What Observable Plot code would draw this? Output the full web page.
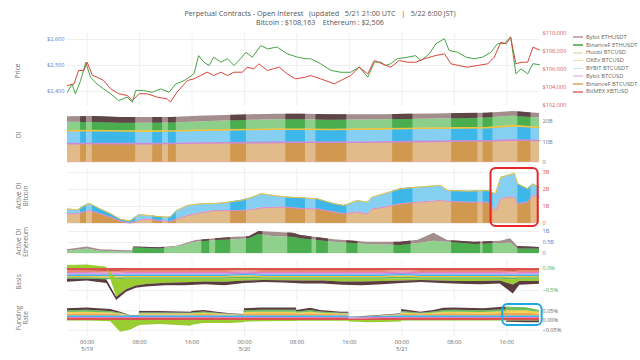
<!DOCTYPE html>
<html><head><meta charset="utf-8">
<script src="https://cdn.jsdelivr.net/npm/d3@7"></script>
<script src="https://cdn.jsdelivr.net/npm/@observablehq/plot@0.6"></script>
<style>
body{margin:0;background:#fff}
#root{position:relative;width:640px;height:360px;overflow:hidden;font-family:"Open Sans",sans-serif;color:#555;background:#fff}
#root svg{position:absolute;left:0}
.ttl{position:absolute;left:0;width:640px;text-align:center;white-space:pre;font-size:7.2px;line-height:10px;color:#555}
.ylab{position:absolute;font-size:6.5px;color:#777;transform:translate(-50%,-50%) rotate(-90deg);text-align:center;line-height:1.15;white-space:pre}
.leg{position:absolute;font-size:5.8px;color:#666;white-space:nowrap;line-height:8px}
.leg span{display:inline-block;width:10px;height:1.5px;vertical-align:middle;margin-right:3px}
</style></head><body><div id="root"></div><script>
// ---------------- DATA ----------------
const xTickHours = [3, 11, 19, 27, 35, 43, 51, 59, 67];
const xTickLabels = ["00:00\n5/19","08:00","16:00","00:00\n5/20","08:00","16:00","00:00\n5/21","08:00","16:00"];

const ethHours = [0,0.7,1.2,2.0,2.8,3.5,4.5,5.5,6.6,7.8,9.1,9.9,10.4,11.6,12.9,14.2,15.5,16.5,17.8,19.3,20.0,20.8,21.6,22.3,23.4,24.4,25.4,26.4,27.2,28.2,29.5,30.5,32.0,33.5,35.1,36.3,37.1,38.6,40.2,41.7,43.2,44.5,45.8,46.8,47.8,48.5,49.3,50.3,51.9,53.1,53.9,55.2,56.2,57.5,58.2,59.5,60.8,62.0,63.3,64.6,65.6,66.6,67.6,68.4,69.2,70.2,71.0,72.0];
const ethPrice = [2397,2429,2391,2442,2512,2455,2429,2410,2391,2365,2378,2359,2404,2404,2397,2410,2397,2429,2442,2468,2538,2513,2500,2532,2513,2526,2500,2526,2551,2532,2577,2564,2571,2545,2532,2526,2526,2507,2481,2474,2474,2494,2455,2513,2513,2500,2507,2526,2532,2538,2519,2545,2584,2603,2558,2551,2532,2526,2532,2551,2584,2584,2610,2468,2487,2468,2507,2503];

const btcHours = [0,1.0,1.7,2.5,3.0,3.8,4.5,5.5,6.6,7.8,9.1,9.9,10.9,12.2,13.7,15.2,15.7,16.7,18.3,19.3,20.3,21.3,22.3,23.4,24.4,25.4,26.7,27.4,28.4,29.2,30.5,32.3,33.5,34.8,36.3,37.1,38.6,40.7,41.7,43.2,44.5,45.8,46.8,48.0,49.3,50.6,51.9,53.1,54.4,56.2,57.5,58.5,59.7,61.0,62.5,64.1,65.1,66.1,66.9,67.6,68.4,69.2,70.2,71.0,72.0];
const btcPrice = [104222,104410,105890,105890,106810,105330,105150,104780,103850,103300,103110,102560,103300,103300,102920,102740,102370,103480,104780,104960,105330,105700,105330,105700,105330,105700,105700,106260,106070,106630,105890,106260,105520,104960,105150,105330,104960,104410,104780,105330,106260,105520,107000,106630,106260,107000,106810,106810,107190,107560,107740,106630,106440,106260,106440,106630,107370,109030,108850,109590,106630,106810,106810,108480,108163];

const oiHours = [0,4,8,12,16,20,24,28,32,36,40,44,48,52,56,60,64,68,72];
const oiBitmex = [0.3,0.3,0.3,0.3,0.3,0.3,0.3,0.3,0.3,0.3,0.3,0.3,0.3,0.3,0.3,0.3,0.3,0.3,0.3];
const oiBinanceBtc = [8.9,9.0,8.9,8.9,9.0,9.2,9.3,9.4,9.5,9.6,9.6,9.6,9.7,9.9,10.0,10.2,10.2,10.7,10.4];
const oiBybitBtcusdt = [6.3,6.3,6.2,6.1,6.1,6.2,6.3,6.4,6.4,6.3,6.2,6.3,6.4,6.4,6.4,6.4,6.5,7.0,6.4];
const oiBinanceEth = [4.1,3.9,3.8,3.8,3.9,4.1,4.4,4.5,4.6,4.7,4.5,4.5,4.5,4.4,4.5,4.5,4.7,4.6,4.6];
const oiBybitEth = [2.7,2.9,2.8,2.8,2.7,2.8,2.6,2.7,2.8,2.7,2.7,2.6,2.4,2.5,2.5,2.5,2.3,2.3,2.2];

const activeBtcHours = [0,1.5,3.3,5,6.6,8.1,9.6,10.9,12.4,13.7,15.7,16.7,18.3,20.3,22.3,24.4,26.4,27.9,29.5,31.5,33.5,35.6,38.1,40.7,42.2,44.2,45.8,46.5,48.3,50.8,53.4,56.9,58,61,64.1,65.3,66.1,67.1,68.2,68.7,70.2,71,72];
const activeBtcBinance = [0.57,0.57,0.76,0.57,0.37,0.12,0.02,0.18,0.27,0.18,0.12,0.27,0.47,0.63,0.76,0.76,0.76,0.80,0.92,0.96,0.96,0.88,0.86,0.67,0.57,0.67,0.57,0.86,0.96,1.16,1.25,1.35,1.30,1.25,1.25,0.76,1.45,1.55,1.55,1.16,1.25,1.65,1.55];
const activeBtcBybit = [0.29,0.23,0.43,0.29,0.20,0.12,0.12,0.35,0.20,0.23,0.25,0.49,0.59,0.53,0.40,0.49,0.59,0.71,0.83,0.69,0.59,0.64,0.59,0.49,0.49,0.68,0.68,0.69,0.79,0.88,0.89,0.89,0.64,0.65,0.69,0.99,1.27,1.27,1.41,1.17,0.79,0.68,0.59];

const activeEthHours = [0,3,5,9,9.9,10.1,14,16.7,19.6,22.6,25.6,27.7,29.2,31.3,34.4,35.6,40.7,45.8,50.8,53.5,55.9,58,62.1,66.1,67.6,68.7,72];
const activeEthBinance = [0.10,0.21,0.10,0.06,0.06,0.26,0.21,0.29,0.51,0.59,0.62,0.67,0.86,0.77,0.74,0.67,0.51,0.41,0.36,0.45,0.56,0.51,0.41,0.45,0.47,0.21,0.21];
const activeEthBybit = [0.07,0.08,0.07,0.07,0.07,0.03,0.05,0.04,0.08,0.08,0.12,0.09,0.14,0.20,0.18,0.15,0.11,0.10,0.15,0.15,0.36,0.08,0.10,0.11,0.20,0.11,0.06];

// dark shading intervals (hours from start)
const darkBands = [[2.0,2.9],[3.8,10.4],[13.0,14.5],[15.4,16.6],[24.9,27.3],[33.3,36.3],[37.9,42.6],[49.6,52.7],[58.6,62.6],[63.4,64.9],[68.7,70.7]];
const ethDarkBands = [[10,14.8],[20.5,21.7],[22.6,24.9],[27.3,29.8],[33.6,37.3],[38,39.8],[42.6,44.3],[49.8,52.4],[58.6,63],[63.4,64.9],[68.7,72]];

const basisHours = [0,3,6,7.5,9,10.5,12,15,18,21,24,27,30,33,36,39,42,45,48,51,54,57,60,63,66,68,69,72];
const basisL1 = [-0.06,-0.06,-0.07,-0.07,-0.06,-0.06,-0.06,-0.06,-0.06,-0.06,-0.06,-0.05,-0.06,-0.06,-0.06,-0.06,-0.06,-0.06,-0.06,-0.05,-0.06,-0.06,-0.06,-0.06,-0.06,-0.07,-0.06,-0.06];
const basisL2 = [-0.03,-0.03,-0.03,-0.03,-0.03,-0.03,-0.03,-0.03,-0.03,-0.03,-0.03,-0.03,-0.03,-0.03,-0.03,-0.03,-0.03,-0.03,-0.03,-0.03,-0.03,-0.03,-0.03,-0.03,-0.03,-0.03,-0.03,-0.03];
const basisL3 = [-0.03,-0.03,-0.03,-0.03,-0.03,-0.03,-0.03,-0.03,-0.03,-0.03,-0.03,-0.03,-0.03,-0.03,-0.03,-0.03,-0.03,-0.03,-0.03,-0.03,-0.03,-0.03,-0.03,-0.03,-0.03,-0.03,-0.03,-0.03];
const basisL4 = [-0.025,-0.025,-0.025,-0.025,-0.025,-0.025,-0.025,-0.025,-0.025,-0.025,-0.025,-0.025,-0.025,-0.025,-0.025,-0.025,-0.025,-0.025,-0.025,-0.025,-0.025,-0.025,-0.025,-0.025,-0.025,-0.025,-0.025,-0.025];
const basisL5 = [-0.035,-0.035,-0.035,-0.035,-0.035,-0.035,-0.035,-0.035,-0.035,-0.035,-0.035,-0.035,-0.035,-0.035,-0.035,-0.035,-0.035,-0.035,-0.035,-0.035,-0.035,-0.035,-0.035,-0.035,-0.035,-0.035,-0.035,-0.035];
const basisL6 = [-0.03,-0.03,-0.03,-0.03,-0.03,-0.03,-0.03,-0.03,-0.03,-0.03,-0.03,-0.03,-0.03,-0.03,-0.03,-0.03,-0.03,-0.03,-0.03,-0.03,-0.03,-0.03,-0.03,-0.03,-0.03,-0.03,-0.03,-0.03];
const basisL7 = [-0.035,-0.035,-0.035,-0.035,-0.035,-0.035,-0.035,-0.035,-0.035,-0.035,-0.035,-0.035,-0.035,-0.035,-0.035,-0.035,-0.035,-0.035,-0.035,-0.035,-0.035,-0.035,-0.035,-0.035,-0.035,-0.035,-0.035,-0.035];
const basisL8 = [0.07,0.08,0.03,-0.40,-0.24,-0.15,-0.12,-0.09,-0.08,-0.06,-0.07,-0.05,-0.03,-0.035,-0.04,-0.04,-0.06,-0.06,-0.05,-0.05,-0.03,-0.04,-0.05,-0.05,-0.04,-0.12,-0.05,-0.05];
const basisL9 = [-0.065,-0.04,-0.085,-0.075,-0.055,-0.055,-0.055,-0.055,-0.065,-0.065,-0.075,-0.055,-0.045,-0.05,-0.065,-0.065,-0.075,-0.085,-0.075,-0.055,-0.045,-0.055,-0.065,-0.075,-0.065,-0.205,-0.085,-0.065];

const fundHours = [0,3,6.6,8.1,9.6,10.9,11,14,18.9,19,20.8,22.8,24.9,26.9,27,29.5,34.9,35,37.1,38.6,41.7,42.9,43,45.8,48,50.9,51,53.9,55.9,57.4,59,63.5,66.9,67,70,72];
const fundL1 = [.010,.010,.010,.010,.010,.010,.010,.010,.010,.010,.010,.010,.010,.010,.010,.010,.010,.010,.010,.010,.010,.010,.008,.009,.010,.010,.010,.010,.010,.010,.010,.010,.010,.010,.010,.010];
const fundL2 = [.006,.006,.006,.006,.006,.006,.006,.006,.006,.006,.006,.006,.006,.006,.006,.006,.006,.006,.006,.006,.006,.006,.005,.006,.006,.006,.006,.006,.006,.006,.006,.006,.006,.006,.006,.006];
const fundL3 = [.009,.009,.009,.009,.009,.009,.009,.009,.009,.009,.009,.009,.009,.009,.009,.009,.009,.009,.009,.009,.009,.009,.002,.004,.006,.009,.009,.009,.009,.009,.009,.009,.009,.009,.009,.009];
const fundL4 = [.009,.010,.008,.005,0,0,.005,.005,.005,.005,.007,.005,.003,.001,.009,.010,.010,.007,.010,.007,.005,.005,0,0,.001,.003,.008,.005,.007,.010,.010,.009,.011,.013,.013,.009];
const fundL5 = [.007,.008,.006,.003,0,0,.004,.004,.003,.004,.005,.003,.002,.001,.007,.008,.008,.005,.008,.005,.003,.003,0,0,.001,.002,.006,.003,.005,.008,.008,.007,.009,.013,.012,.008];
const fundL6 = [-.003,-.003,-.006,-.060,-.050,-.028,-.026,-.021,-.030,-.025,-.016,-.016,-.015,-.012,-.009,-.006,-.005,-.004,-.004,-.004,-.004,-.004,-.008,-.012,-.010,-.008,-.003,-.003,-.003,-.003,-.003,-.003,-.003,-.003,-.003,-.003];
const fundL7 = [.009,.010,.008,.005,0,0,.005,.005,.005,.005,.007,.005,.002,.002,.009,.010,.010,.007,.009,.007,.005,.005,0,0,0,.002,.008,.005,.007,.009,.010,.009,.011,.018,.016,.010];
const fundL8 = [.010,.012,.010,.005,.001,.001,.007,.007,.005,.007,.008,.005,.003,.002,.010,.012,.012,.008,.011,.008,.005,.005,.002,.003,.003,.003,.010,.005,.008,.011,.012,.010,.013,-.006,-.008,-.008];

const ethTicks = [2400, 2500, 2600];
const btcTicks = [102000, 104000, 106000, 108000, 110000];
const oiTicks = [0, 10, 20];
const activeBtcTicks = [0, 1, 2, 3];
const activeEthTicks = [0, 0.5, 1];
const basisTicks = [0, -0.5];
const fundTicks = [0.05, 0, -0.05];

const legendNames = ["Bybit ETHUSDT","BinanceF ETHUSDT","Huobi BTCUSD","OKEx BTCUSD","BYBIT BTCUSDT","Bybit BTCUSD","BinanceF BTCUSDT","BitMEX XBTUSD"];
const legendColors = ["#c4b0b0","#6cbc6c","#e2ecce","#f8dfa8","#c8e9f8","#f1cff1","#ecb78a","#e48c8c"];

const redBoxHours = [64.6, 71.8], redBoxValues = [-0.18, 3.24];
const blueBoxHours = [66.4, 72.4], blueBoxValues = [-0.026, 0.082];

// ---------------- HELPERS ----------------
const T0 = Date.UTC(2025, 4, 18, 21);
const toDate = h => new Date(T0 + h * 3600000);
const root = document.getElementById("root");
const NS = "http://www.w3.org/2000/svg";
let clipId = 0;
const DARKS = new Set(["#d1984f", "#3db7ea", "#4bae4e", "#5e4646"]);

function panel(top, bottom, ydomain, marks) {
  const MT = 8, MB = 8;
  const p = Plot.plot({
    width: 640, height: bottom - top + MT + MB,
    marginLeft: 67, marginRight: 101, marginTop: MT, marginBottom: MB,
    x: {type: "utc", domain: [toDate(0), toDate(72)], axis: null},
    y: {domain: ydomain, axis: null},
    color: {type: "identity"},
    style: {background: "transparent", overflow: "visible", fontFamily: "'Open Sans', sans-serif"},
    marks
  });
  p.style.top = (top - MT) + "px";
  root.append(p);
  return p;
}
function clipDark(svg, bands) {
  const sx = svg.scale("x");
  const id = "darkclip" + (++clipId);
  let defs = document.createElementNS(NS, "defs");
  const cp = document.createElementNS(NS, "clipPath");
  cp.setAttribute("id", id);
  cp.setAttribute("clipPathUnits", "userSpaceOnUse");
  for (const [a, b] of bands) {
    const x1 = sx.apply(toDate(a)), x2 = sx.apply(toDate(b));
    const r = document.createElementNS(NS, "rect");
    r.setAttribute("x", x1); r.setAttribute("width", Math.max(0, x2 - x1));
    r.setAttribute("y", -50); r.setAttribute("height", 500);
    cp.append(r);
  }
  defs.append(cp);
  svg.insertBefore(defs, svg.firstChild);
  svg.querySelectorAll("path").forEach(p => {
    const f = (p.getAttribute("fill") || "").toLowerCase();
    if (DARKS.has(f)) p.setAttribute("clip-path", `url(#${id})`);
  });
}
function stackRows(hours, layers) {
  const rows = [];
  for (const L of layers) hours.forEach((h, i) => rows.push({t: toDate(h), name: L.name, v: L.values[i], light: L.light, dark: L.dark || "none", edge: L.edge || "none"}));
  return rows;
}
const grid = () => Plot.ruleX(xTickHours, {x: h => toDate(h), stroke: "#ececec", strokeWidth: 0.8});
const gridY = ticks => Plot.ruleY(ticks, {stroke: "#ececec", strokeWidth: 0.8});
const rightLabels = (ticks, fmt, color) => Plot.text(ticks, {y: d => d, frameAnchor: "right", textAnchor: "start", dx: 3, text: fmt, fill: color, fontSize: 5.6});
const stackMarks = (rows, edgeWidth) => [
  Plot.areaY(rows, {x: "t", y: "v", z: "name", fill: "light"}),
  Plot.areaY(rows, {x: "t", y: "v", z: "name", fill: "dark"}),
  Plot.lineY(rows, Plot.stackY2({x: "t", y: "v", z: "name", stroke: "edge", strokeWidth: edgeWidth}))
];

// ---------------- TITLES ----------------
function div(cls, text, css) { const d = document.createElement("div"); d.className = cls; d.textContent = text; Object.assign(d.style, css); root.append(d); return d; }
div("ttl", "Perpetual Contracts - Open Interest   (updated   5/21 21:00 UTC   |   5/22 6:00 JST)", {top: "8px"});
div("ttl", "Bitcoin : $108,163    Ethereum : $2,506", {top: "17px"});
[["Price", 18, 71], ["OI", 19, 135], ["Active OI\nBitcoin", 22, 196], ["Active OI\nEthereum", 22, 242], ["Basis", 19, 282], ["Funding\nRate", 22, 318]]
  .forEach(([t, x, y]) => div("ylab", t, {left: x + "px", top: y + "px"}));

// ---------------- PRICE ----------------
const ethRows = ethHours.map((h, i) => ({t: toDate(h), v: ethPrice[i]}));
const btcRows = btcHours.map((h, i) => ({t: toDate(h), v: btcPrice[i]}));
const usd = d => "$" + d3.format(",")(d);
panel(33, 105, [2346.2, 2623.1], [
  grid(), gridY(ethTicks),
  Plot.lineY(ethRows, {x: "t", y: "v", stroke: "#45a545", strokeWidth: 1}),
  Plot.text(ethTicks, {y: d => d, frameAnchor: "left", textAnchor: "end", dx: -3, text: usd, fill: "#5a83cf", fontSize: 5.6})
]);
panel(33, 105, [102000, 110000], [
  Plot.lineY(btcRows, {x: "t", y: "v", stroke: "#d8473a", strokeWidth: 1}),
  rightLabels(btcTicks, usd, "#e35b5b")
]);

// ---------------- OI ----------------
const oiRows = stackRows(oiHours, [
  {name: "BitMEX XBTUSD", values: oiBitmex, light: "#d9534f"},
  {name: "BinanceF BTCUSDT", values: oiBinanceBtc, light: "#e2bb8b", dark: "#d1984f", edge: "#c98bd6"},
  {name: "BYBIT BTCUSDT", values: oiBybitBtcusdt, light: "#84cff2", dark: "#3db7ea", edge: "#efc33d"},
  {name: "BinanceF ETHUSDT", values: oiBinanceEth, light: "#8ccf8a", dark: "#4bae4e"},
  {name: "Bybit ETHUSDT", values: oiBybitEth, light: "#a38d8d", dark: "#5e4646"}
]);
const oiSvg = panel(110, 162, [0, 25.37], [
  grid(), gridY(oiTicks), ...stackMarks(oiRows, 1.6),
  rightLabels(oiTicks, d => d === 0 ? "0" : d + "B", "#777")
]);
clipDark(oiSvg, darkBands);

// ---------------- ACTIVE OI BTC ----------------
const abRows = stackRows(activeBtcHours, [
  {name: "BinanceF BTCUSDT", values: activeBtcBinance, light: "#e2bb8b", dark: "#d1984f", edge: "#d58ed9"},
  {name: "BYBIT BTCUSDT", values: activeBtcBybit, light: "#84cff2", dark: "#3db7ea", edge: "#efc33d"}
]);
const abSvg = panel(168, 223, [0, 3.235], [
  grid(), gridY(activeBtcTicks), ...stackMarks(abRows, 1),
  rightLabels(activeBtcTicks, d => d === 0 ? "0" : d + "B", "#e35b5b"),
  Plot.rect([0], {x1: () => toDate(redBoxHours[0]), x2: () => toDate(redBoxHours[1]), y1: () => redBoxValues[0], y2: () => redBoxValues[1], fill: "none", stroke: "#e8262b", strokeWidth: 2, rx: 5})
]);
clipDark(abSvg, darkBands);

// ---------------- ACTIVE OI ETH ----------------
const aeRows = stackRows(activeEthHours, [
  {name: "BinanceF ETHUSDT", values: activeEthBinance, light: "#8fd08d", dark: "#4bae4e"},
  {name: "Bybit ETHUSDT", values: activeEthBybit, light: "#a38d8d", dark: "#5e4646"}
]);
const aeSvg = panel(229, 253, [0, 1.091], [
  grid(), gridY(activeEthTicks), ...stackMarks(aeRows, 1),
  rightLabels(activeEthTicks, d => d === 0 ? "0" : d + "B", "#5a83cf")
]);
clipDark(aeSvg, ethDarkBands);

// ---------------- BASIS ----------------
const basisRows = stackRows(basisHours, [
  {name: "b1", values: basisL1, light: "#d9534f"},
  {name: "b2", values: basisL2, light: "#ec8a6e"},
  {name: "b3", values: basisL3, light: "#e37fc2"},
  {name: "b4", values: basisL4, light: "#b68fe0"},
  {name: "b5", values: basisL5, light: "#41b3e8"},
  {name: "b6", values: basisL6, light: "#f2c23a"},
  {name: "b7", values: basisL7, light: "#5cb85c"},
  {name: "b8", values: basisL8, light: "#9acd32"},
  {name: "b9", values: basisL9, light: "#5a3d3d"}
]);
panel(260, 302, [-0.773, 0.182], [
  grid(), gridY(basisTicks),
  Plot.areaY(basisRows, {x: "t", y: "v", z: "name", fill: "light"}),
  rightLabels(basisTicks, d => d === 0 ? "0.0%" : "\u22120.5%", "#4cae4c")
]);

// ---------------- FUNDING ----------------
const fundRows = stackRows(fundHours, [
  {name: "f1", values: fundL1, light: "#d9534f"},
  {name: "f2", values: fundL2, light: "#e07fc8"},
  {name: "f3", values: fundL3, light: "#41b3e8"},
  {name: "f4", values: fundL4, light: "#f0a848"},
  {name: "f5", values: fundL5, light: "#f2d04a"},
  {name: "f6", values: fundL6, light: "#9acd32"},
  {name: "f7", values: fundL7, light: "#6cbf5c"},
  {name: "f8", values: fundL8, light: "#5a3d3d"}
]);
panel(304, 336, [-0.0825, 0.0825], [
  grid(), gridY(fundTicks),
  Plot.areaY(fundRows, {x: "t", y: "v", z: "name", fill: "light"}),
  rightLabels(fundTicks, d => d === 0 ? "0.00%" : (d > 0 ? "0.05%" : "\u22120.05%"), "#666"),
  Plot.rect([0], {x1: () => toDate(blueBoxHours[0]), x2: () => toDate(blueBoxHours[1]), y1: () => blueBoxValues[0], y2: () => blueBoxValues[1], fill: "none", stroke: "#1ea7e1", strokeWidth: 2, rx: 5})
]);

// ---------------- X AXIS ----------------
const xa = Plot.plot({
  width: 640, height: 20, marginLeft: 67, marginRight: 101, marginTop: 0, marginBottom: 0,
  x: {type: "utc", domain: [toDate(0), toDate(72)], axis: null},
  style: {background: "transparent", overflow: "visible", fontFamily: "'Open Sans', sans-serif"},
  marks: [Plot.text(xTickHours, {x: h => toDate(h), text: (d, i) => xTickLabels[i], frameAnchor: "top", lineAnchor: "top", dy: 1, fontSize: 5.6, fill: "#666", lineHeight: 1.3})]
});
xa.style.top = "337px";
root.append(xa);

// ---------------- LEGEND ----------------
legendNames.forEach((n, i) => {
  const d = document.createElement("div");
  d.className = "leg";
  d.style.left = "573px";
  d.style.top = (32.7 + i * 7.8) + "px";
  const s = document.createElement("span");
  s.style.background = legendColors[i];
  d.append(s, document.createTextNode(n));
  root.append(d);
});
</script></body></html>
